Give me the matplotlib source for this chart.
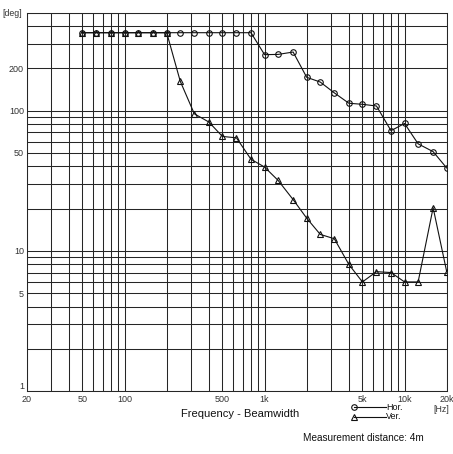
"""Frequency vs. beamwidth chart (horizontal / vertical), log-log with full grid."""
import matplotlib
matplotlib.use("Agg")
import matplotlib.pyplot as plt
from matplotlib.lines import Line2D
from matplotlib.ticker import FixedLocator, NullFormatter, FixedFormatter

# 1/3-octave centre frequencies [Hz]
freq = [50, 63, 80, 100, 125, 160, 200, 250, 315, 400, 500, 630, 800,
        1000, 1250, 1600, 2000, 2500, 3150, 4000, 5000, 6300, 8000,
        10000, 12500, 16000, 20000]
# beamwidth [deg]
hor = [360, 360, 360, 360, 360, 360, 360, 360, 360, 360, 360, 360, 360,
       251, 252, 262, 173, 160, 134, 113, 111, 108, 72,
       81, 58, 51, 39]
ver = [360, 360, 360, 360, 360, 360, 360, 162, 95, 83, 65.5, 64, 45,
       39.6, 31.8, 23.2, 17.1, 13.1, 12.2, 8.0, 6.0, 7.1, 7.0,
       6.0, 6.0, 20.3, 7.1]

x_ticks = [20, 50, 100, 500, 1000, 5000, 10000, 20000]
x_labels = ["20", "50", "100", "500", "1k", "5k", "10k", "20k"]
y_ticks = [1, 5, 10, 50, 100, 200]
y_labels = ["1", "5", "10", "50", "100", "200"]

INK = "#111111"
GRIDC = "#262626"
FONT = ["Liberation Sans", "DejaVu Sans"]

plt.rcParams["font.family"] = FONT

W, H = 453, 454
fig = plt.figure(figsize=(W / 100, H / 100), dpi=100)
left, right, top, bottom = 26.7, 446.7, 12.7, 391.0
ax = fig.add_axes([left / W, 1 - bottom / H, (right - left) / W, (bottom - top) / H])

ax.set_xscale("log")
ax.set_yscale("log")
ax.set_xlim(20, 20000)
ax.set_ylim(1, 500)

# full grid at every integer multiple within each decade
xgrid = [m * 10 ** e for e in range(1, 5) for m in range(1, 10) if 20 <= m * 10 ** e <= 20000]
ygrid = [m * 10 ** e for e in range(0, 3) for m in range(1, 10) if 1 <= m * 10 ** e <= 500]
for xv in xgrid:
    ax.axvline(xv, color=GRIDC, lw=0.75, zorder=1)
for yv in ygrid:
    ax.axhline(yv, color=GRIDC, lw=0.75, zorder=1)

ax.plot(freq, hor, color=INK, lw=0.8, marker="o", ms=4, mfc="none",
        mec=INK, mew=0.8, zorder=3)
ax.plot(freq, ver, color=INK, lw=0.8, marker="^", ms=4.2, mfc="none",
        mec=INK, mew=0.8, zorder=3)

ax.xaxis.set_major_locator(FixedLocator(x_ticks))
ax.xaxis.set_major_formatter(FixedFormatter(x_labels))
ax.xaxis.set_minor_formatter(NullFormatter())
ax.yaxis.set_major_locator(FixedLocator(y_ticks))
ax.yaxis.set_major_formatter(FixedFormatter(y_labels))
ax.yaxis.set_minor_formatter(NullFormatter())
ax.tick_params(which="both", length=0, labelsize=6.5, colors="#333333")
ax.tick_params(axis="x", pad=3)
ax.tick_params(axis="y", pad=2)
for sp in ax.spines.values():
    sp.set_color(GRIDC)
    sp.set_linewidth(0.75)

# lowest y label sits on the bottom line, clear of the "20" below it
fig.canvas.draw()
ax.get_yticklabels()[0].set_va("bottom")

# annotations
fig.text(2 / W, 1 - 13 / H, "[deg]", fontsize=6.3, color="#333333", va="center", ha="left")
fig.text(441 / W, 1 - 409 / H, "[Hz]", fontsize=6.3, color="#333333", va="center", ha="center")
fig.text(240 / W, 1 - 414 / H, "Frequency - Beamwidth", fontsize=8, color=INK,
         va="center", ha="center")
fig.text(363 / W, 1 - 438 / H, "Measurement distance: 4m", fontsize=7.2, color=INK,
         va="center", ha="center")

# legend
for yy, mk, lab in [(407.3, "o", "Hor."), (416.7, "^", "Ver.")]:
    fig.add_artist(Line2D([354 / W, 386 / W], [1 - yy / H, 1 - yy / H], color=INK, lw=0.8))
    fig.add_artist(Line2D([354 / W], [1 - yy / H], marker=mk, ms=4, mfc="none",
                          mec=INK, mew=0.8, lw=0))
    fig.text(386 / W, 1 - yy / H, lab, fontsize=6.5, color=INK, va="center", ha="left")

fig.savefig("out.png", dpi=100)
